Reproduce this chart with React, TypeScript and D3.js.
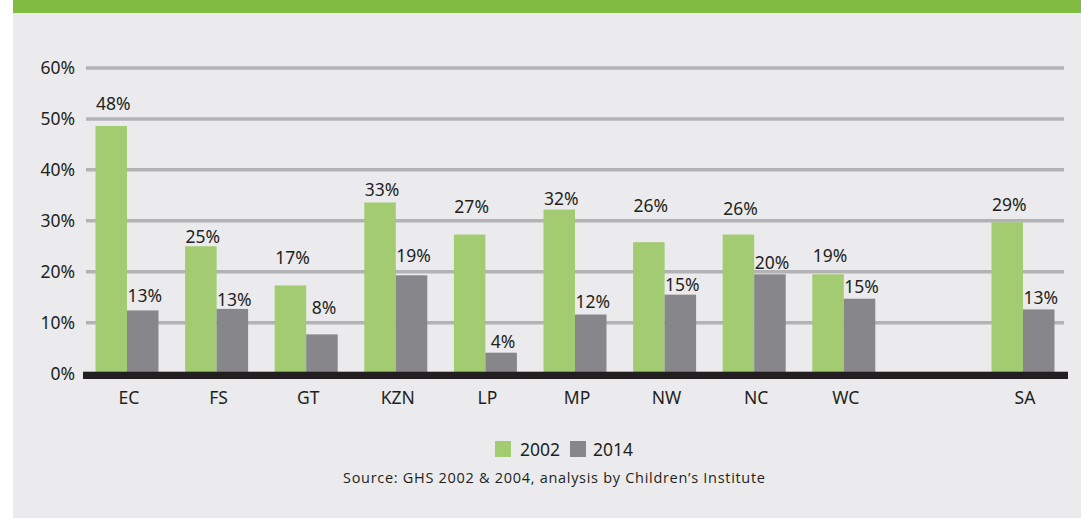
import React from "react";
import * as d3 from "d3";

const categories = ["EC", "FS", "GT", "KZN", "LP", "MP", "NW", "NC", "WC", "SA"];
const values2002 = [48.6, 25.0, 17.3, 33.6, 27.3, 32.2, 25.8, 27.3, 19.5, 29.7];
const values2014 = [12.4, 12.7, 7.7, 19.3, 4.1, 11.6, 15.5, 19.5, 14.7, 12.6];
const labels2002 = ["48%", "25%", "17%", "33%", "27%", "32%", "26%", "26%", "19%", "29%"];
const labels2014 = ["13%", "13%", "8%", "19%", "4%", "12%", "15%", "20%", "15%", "13%"];
const yTicks = [0, 10, 20, 30, 40, 50, 60];
const seriesNames = ["2002", "2014"];
const sourceText = "Source: GHS 2002 & 2004, analysis by Children\u2019s Institute";

// layout: label lift above bar top (px), as in the original artwork
const lift2002 = [16, 3, 21, 6, 22, 5, 30, 20, 12, 11];
const lift2014 = [8, 3, 20, 13, 5, 7, 4, 5, 6, 5];

const W = 1081;
const H = 518;
const GREEN = "#A3CB71";
const GREY = "#87878B";
const FONT = "'Noto Sans', 'Open Sans', sans-serif";

export default function App() {
  const slots = [...categories.slice(0, 9), "__gap__", categories[9]];
  const x = d3.scaleBand<string>().domain(slots).range([82.2, 1067.8]).paddingInner(0).paddingOuter(0);
  const y = d3.scaleLinear().domain([0, 60]).range([373.6, 68]);
  const bw = 31.5;
  const cx = (c: string) => (x(c) as number) + x.bandwidth() / 2;
  const base = 372;

  return (
    <svg width={W} height={H} style={{ position: "absolute", left: 0, top: 0, display: "block" }}>
      <rect x={0} y={0} width={W} height={H} fill="#ffffff" />
      <rect x={13} y={0} width={W - 13} height={H} fill="#EBEBED" />
      <rect x={13} y={0} width={W - 13} height={13} fill="#80BC41" />

      {yTicks.map((t) => (
        <g key={t}>
          {t > 0 && <line x1={86} x2={1064} y1={y(t)} y2={y(t)} stroke="#B3B3B5" strokeWidth={3.5} />}
          <text x={75} y={y(t)} dy="0.35em" textAnchor="end" fontFamily={FONT} fontSize={17.5} fill="#231F20">
            {t}%
          </text>
        </g>
      ))}

      {categories.map((c, i) => {
        const m = cx(c);
        const y1 = y(values2002[i]);
        const y2 = y(values2014[i]);
        return (
          <g key={c}>
            <rect x={m - bw} y={y1} width={bw} height={base - y1} fill={GREEN} />
            <rect x={m} y={y2} width={bw} height={base - y2} fill={GREY} />
            <text x={m - bw / 2 + 2} y={y1 - lift2002[i]} textAnchor="middle" fontFamily={FONT} fontSize={17.5} fill="#231F20">
              {labels2002[i]}
            </text>
            <text x={m + bw / 2 + 2} y={y2 - lift2014[i]} textAnchor="middle" fontFamily={FONT} fontSize={17.5} fill="#231F20">
              {labels2014[i]}
            </text>
            <text x={m + 2} y={404} textAnchor="middle" fontFamily={FONT} fontSize={17.5} fill="#231F20">
              {c}
            </text>
          </g>
        );
      })}

      <rect x={83} y={371.7} width={985} height={7.3} fill="#231F20" />

      <rect x={495} y={441} width={16} height={16} fill={GREEN} />
      <text x={520} y={456} fontFamily={FONT} fontSize={17.5} fill="#231F20">{seriesNames[0]}</text>
      <rect x={570} y={441} width={16} height={16} fill={GREY} />
      <text x={593} y={456} fontFamily={FONT} fontSize={17.5} fill="#231F20">{seriesNames[1]}</text>

      <text x={343} y={483} textLength={422} lengthAdjust="spacing" fontFamily="'Open Sans', Lato, sans-serif" fontSize={14.5} fill="#231F20">
        {sourceText}
      </text>
    </svg>
  );
}
